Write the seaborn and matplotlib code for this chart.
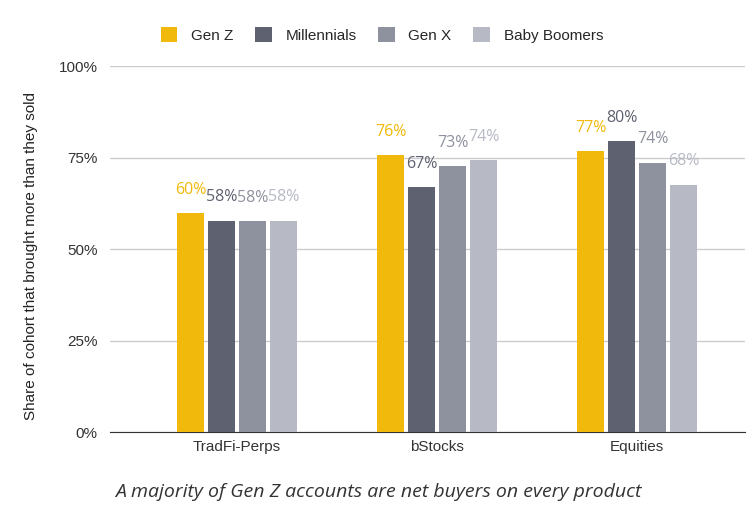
import pandas as pd
import matplotlib.pyplot as plt
import seaborn as sns

products = ["TradFi-Perps", "bStocks", "Equities"]
cohorts = ["Gen Z", "Millennials", "Gen X", "Baby Boomers"]
gen_z = [59.8, 75.6, 76.8]
millennials = [57.8, 67.0, 79.5]
gen_x = [57.6, 72.6, 73.6]
boomers = [57.8, 74.3, 67.6]

colors = ["#F0B90B", "#5E6270", "#8E929E", "#B7BAC4"]
label_colors = ["#F0B90B", "#5E6270", "#8E929E", "#B7BAC4"]

rows = []
for cohort, vals in zip(cohorts, [gen_z, millennials, gen_x, boomers]):
    for product, v in zip(products, vals):
        rows.append({"product": product, "cohort": cohort, "share": v})
df = pd.DataFrame(rows)

sns.set_style("white")
plt.rcParams["font.family"] = ["Liberation Sans", "DejaVu Sans"]

fig = plt.figure(figsize=(7.56, 5.12), dpi=100)
ax = fig.add_axes([0.1455, 0.156, 0.84, 0.715])

sns.barplot(data=df, x="product", y="share", hue="cohort", order=products,
            hue_order=cohorts, palette=colors, width=0.62, gap=0.1,
            saturation=1, linewidth=0, ax=ax, zorder=3)

for cont, c in zip(ax.containers, label_colors):
    ax.bar_label(cont, labels=[f"{v:.0f}%" for v in cont.datavalues],
                 padding=11, color=c, fontsize=11.5, family="Open Sans")

ax.set_ylim(0, 100)
ax.set_xlim(-0.635, 2.54)
ax.set_yticks([0, 25, 50, 75, 100])
ax.set_yticklabels(["0%", "25%", "50%", "75%", "100%"])
ax.yaxis.grid(True, color="#CCCCCC", linewidth=1, zorder=0)
ax.tick_params(axis="both", length=0, labelsize=11, labelcolor="#333333")
ax.tick_params(axis="y", pad=9)
ax.tick_params(axis="x", pad=6)
sns.despine(ax=ax, left=True)
ax.spines["bottom"].set_color("#333333")
ax.set_xlabel("")
ax.set_ylabel("Share of cohort that brought more than they sold", fontsize=11,
              color="#222222")
ax.yaxis.set_label_coords(-0.113, 0.48)

ax.legend(loc="center", bbox_to_anchor=(0.428, 1.085), ncol=4, frameon=False,
          fontsize=11, handlelength=1.1, handleheight=1.1, columnspacing=1.4,
          handletextpad=0.9, borderaxespad=0)

fig.text(0.5, 0.022, "A majority of Gen Z accounts are net buyers on every product",
         ha="center", va="bottom", fontsize=14, style="italic",
         family="Open Sans", color="#333333")

fig.savefig("out.png", dpi=100)
